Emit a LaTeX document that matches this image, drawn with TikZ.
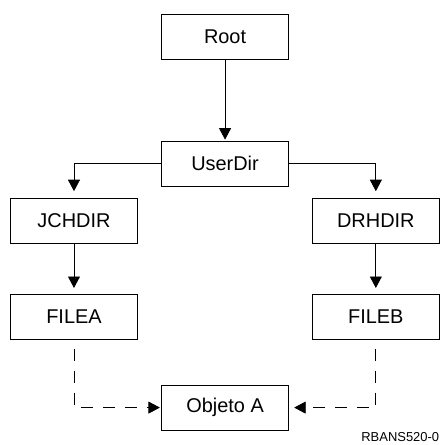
\documentclass[tikz,border=0pt]{standalone}
\usepackage{fontspec}
\setmainfont{Liberation Sans}
\usetikzlibrary{arrows.meta}

\begin{document}
\begin{tikzpicture}[
  dir node/.style={rectangle,draw,thick,minimum width=4.5cm,
    minimum height=1.59cm,inner sep=0pt,font=\fontsize{20}{24}\selectfont},
  link/.style={draw,thick,-{Triangle[width=12pt,length=11.5pt]}},
  alias link/.style={link,dash pattern=on 12pt off 10pt}]

  \useasboundingbox (0,0) rectangle (15.5,-15.7);

  \node[dir node] (root) at (7.94,-1.29) {Root};
  \node[dir node] (user) at (7.94,-5.77) {UserDir};
  \node[dir node] (jch) at (2.61,-7.8) {JCHDIR};
  \node[dir node] (drh) at (13.26,-7.8) {DRHDIR};
  \node[dir node] (filea) at (2.61,-11.18) {FILEA};
  \node[dir node] (fileb) at (13.26,-11.18) {FILEB};
  \node[dir node] (obj) at (7.94,-14.38) {Objeto A};
  \node[anchor=east,inner sep=0pt,font=\fontsize{13}{15}\selectfont] (fig) at (15.5,-15.42) {RBANS520-0};

  \draw [link,shorten >=1pt] (root) -- (user);
  \draw [link,shorten >=7pt] (user.west) -| (jch.north);
  \draw [link,shorten >=7pt] (user.east) -| (drh.north);
  \draw [link,shorten >=6pt] (jch) -- (filea);
  \draw [link,shorten >=6pt] (drh) -- (fileb);
%  links to the same object
  \draw [alias link,shorten <=9pt,shorten >=1pt] (filea.south) |- (obj.west);
  \draw [alias link,shorten <=9pt,shorten >=5pt] (fileb.south) |- (obj.east);
\end{tikzpicture}
\end{document}
